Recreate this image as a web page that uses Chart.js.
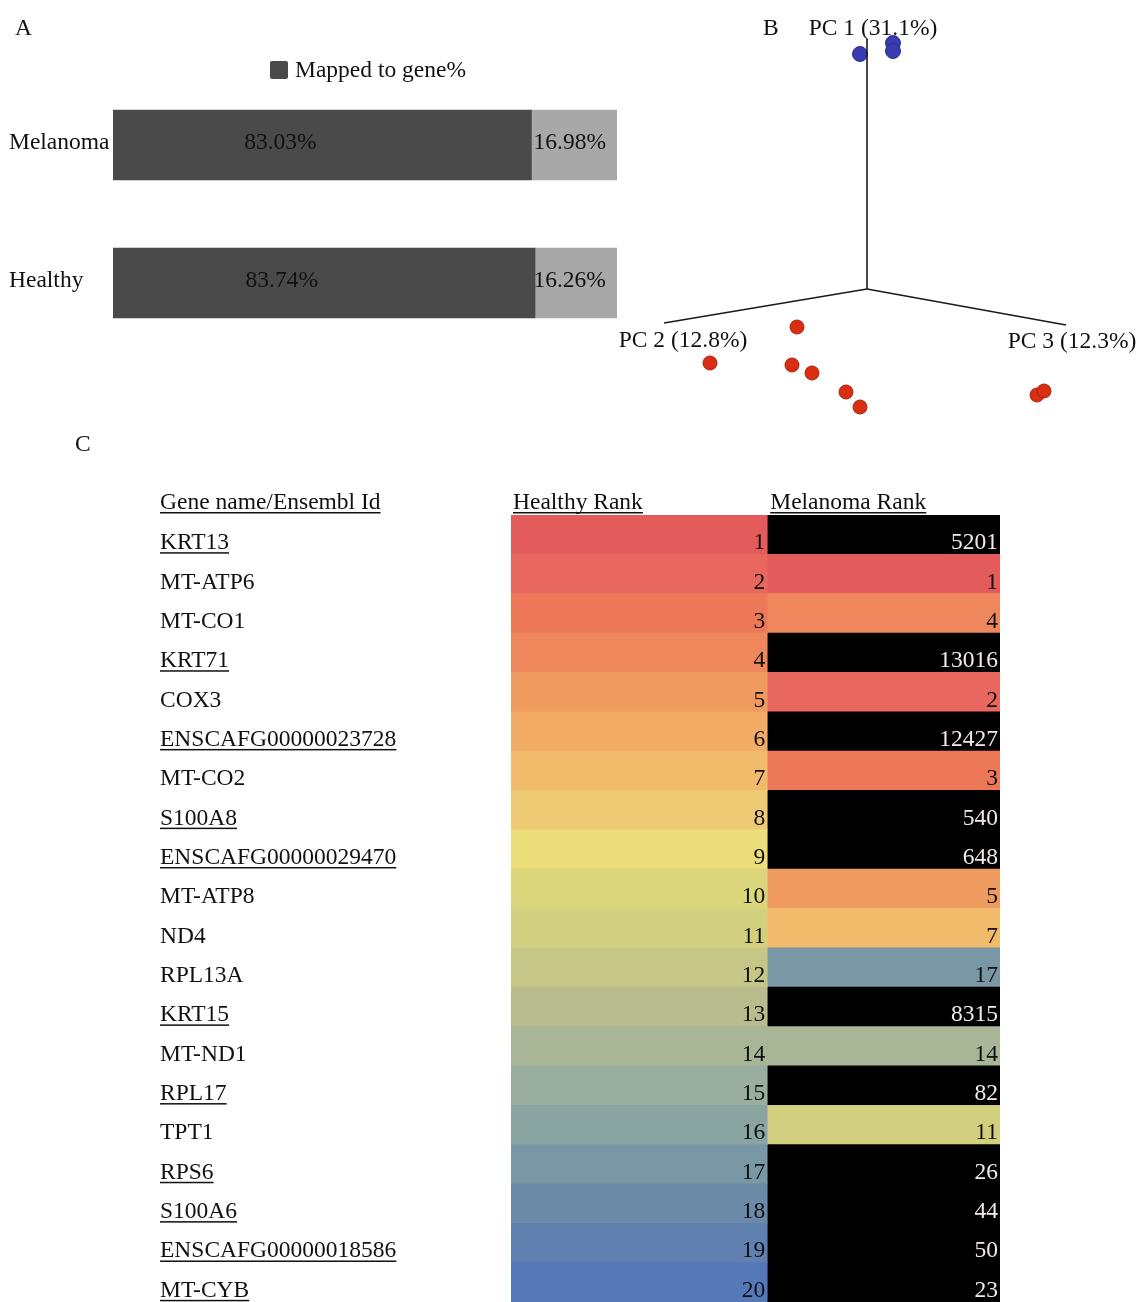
<!DOCTYPE html>
<html>
<head>
<meta charset="utf-8">
<title>Mapping rate, PCA and top ranked genes</title>
<script src="https://cdn.jsdelivr.net/npm/chart.js@4.4.1/dist/chart.umd.min.js"></script>
<style>
  html, body { margin: 0; padding: 0; background: #fff; }
  #page { position: relative; width: 1144px; height: 1302px; overflow: hidden; font-family: "Liberation Serif", "Times New Roman", serif; }
  canvas { position: absolute; }
  .panel { position: absolute; font-size: 23.5px; line-height: 24px; color: #111; }
</style>
</head>
<body>
<div id="page">
  <canvas id="mapChart" width="640" height="360" style="left:0;top:0"></canvas>
  <canvas id="pcaChart" width="544" height="420" style="left:600px;top:0"></canvas>
  <canvas id="rankChart" width="1144" height="882" style="left:0;top:420px"></canvas>
  <div class="panel" style="left:15px;top:15px">A</div>
  <div class="panel" style="left:763px;top:15px">B</div>
  <div class="panel" style="left:75px;top:431px">C</div>
</div>
<script>
const FONT = '23.5px "Liberation Serif", "Times New Roman", serif';

// A - reads mapped to genes
const sampleNames = ['Melanoma', 'Healthy'];
const mappedPct = [83.03, 83.74];
const unmappedPct = [16.98, 16.26];

// B - PCA scores projected on the page (PC1 up, PC2 left, PC3 right)
const pcLabels = ['PC 1 (31.1%)', 'PC 2 (12.8%)', 'PC 3 (12.3%)'];
const pcAxisEnds = [{x: 0, y: 2.50}, {x: -2.03, y: -0.34}, {x: 1.99, y: -0.36}];
const bluePoints = [{x: -0.07, y: 2.35}, {x: 0.26, y: 2.46}, {x: 0.26, y: 2.38}];
const redPoints = [
  {x: -0.70, y: -0.38}, {x: -1.57, y: -0.74}, {x: -0.75, y: -0.76}, {x: -0.55, y: -0.84},
  {x: -0.21, y: -1.03}, {x: -0.07, y: -1.18}, {x: 1.70, y: -1.06}, {x: 1.77, y: -1.02}
];

// C - top 20 genes in healthy samples and their rank in melanoma
const geneNames = ['KRT13', 'MT-ATP6', 'MT-CO1', 'KRT71', 'COX3', 'ENSCAFG00000023728', 'MT-CO2',
  'S100A8', 'ENSCAFG00000029470', 'MT-ATP8', 'ND4', 'RPL13A', 'KRT15', 'MT-ND1', 'RPL17', 'TPT1',
  'RPS6', 'S100A6', 'ENSCAFG00000018586', 'MT-CYB'];
const healthyRank = [1, 2, 3, 4, 5, 6, 7, 8, 9, 10, 11, 12, 13, 14, 15, 16, 17, 18, 19, 20];
const melanomaRank = [5201, 1, 4, 13016, 2, 12427, 3, 540, 648, 5, 7, 17, 8315, 14, 82, 11, 26, 44, 50, 23];
const rankColors = ['#e35b5b', '#e8675f', '#ec7858', '#ee885c', '#ef9a5e', '#f2ac65', '#f2bb6b',
  '#efca75', '#ecde7a', '#dbd67b', '#d2cf7e', '#c6c787', '#b9bd8e', '#a9b597', '#9aae9e',
  '#8aa4a2', '#7a97a5', '#6b8aa8', '#6081b0', '#5778b8'];

function rankColor(r) {
  return r <= rankColors.length ? rankColors[r - 1] : '#000000';
}

function underlined(ctx, text, x, y) {
  ctx.fillText(text, x, y);
  ctx.fillRect(x, y + 3, ctx.measureText(text).width, 1.5);
}

// ---------- A ----------
const mapLabels = {
  id: 'mapLabels',
  afterDatasetsDraw(chart) {
    const ctx = chart.ctx;
    const dark = chart.getDatasetMeta(0).data;
    const light = chart.getDatasetMeta(1).data;
    ctx.save();
    ctx.font = FONT;
    ctx.fillStyle = '#111';
    ctx.textBaseline = 'middle';
    sampleNames.forEach((name, i) => {
      const y = dark[i].y - 2;
      ctx.textAlign = 'left';
      ctx.fillText(name, 9, y);
      ctx.textAlign = 'center';
      ctx.fillText(mappedPct[i].toFixed(2) + '%', dark[i].base + (dark[i].x - dark[i].base) * 0.4, y);
      ctx.textAlign = 'right';
      ctx.fillText(unmappedPct[i].toFixed(2) + '%', light[i].x - 11, y);
    });
    // legend, only the mapped series
    const ds = chart.data.datasets[0];
    ctx.fillStyle = ds.backgroundColor;
    ctx.beginPath();
    ctx.roundRect(270, 61, 18, 18, 2);
    ctx.fill();
    ctx.fillStyle = '#111';
    ctx.textAlign = 'left';
    ctx.fillText(ds.label, 295, 71);
    ctx.restore();
  }
};

new Chart(document.getElementById('mapChart'), {
  type: 'bar',
  data: {
    labels: sampleNames,
    datasets: [
      { label: 'Mapped to gene%', data: mappedPct, backgroundColor: '#4a4a4a', barThickness: 70 },
      { label: 'Not mapped%', data: unmappedPct, backgroundColor: '#a9a8a9', barThickness: 70 }
    ]
  },
  options: {
    indexAxis: 'y',
    responsive: false,
    animation: false,
    layout: { padding: { left: 113, right: 23, top: 76, bottom: 8 } },
    scales: {
      x: { stacked: true, min: 0, max: 100.01, display: false },
      y: { stacked: true, display: false }
    },
    plugins: { legend: { display: false }, tooltip: { enabled: false } }
  },
  plugins: [mapLabels]
});

// ---------- B ----------
const pcLabelOffset = [[6, -10], [19, 18], [6, 17]];

const pcaLabels = {
  id: 'pcaLabels',
  afterDatasetsDraw(chart) {
    const ctx = chart.ctx;
    const sx = chart.scales.x, sy = chart.scales.y;
    ctx.save();
    ctx.font = FONT;
    ctx.fillStyle = '#111';
    ctx.textAlign = 'center';
    ctx.textBaseline = 'middle';
    pcLabels.forEach((txt, i) => {
      const px = sx.getPixelForValue(pcAxisEnds[i].x) + pcLabelOffset[i][0];
      const py = sy.getPixelForValue(pcAxisEnds[i].y) + pcLabelOffset[i][1];
      ctx.fillText(txt, px, py);
    });
    ctx.restore();
  }
};

const axisSets = pcAxisEnds.map((end, i) => ({
  label: pcLabels[i],
  data: [{x: 0, y: 0}, end],
  showLine: true,
  borderColor: '#1a1a1a',
  borderWidth: 1.6,
  pointRadius: 0
}));

new Chart(document.getElementById('pcaChart'), {
  type: 'scatter',
  data: {
    datasets: [
      ...axisSets,
      { label: 'Healthy', data: bluePoints, backgroundColor: '#3a3bb0', borderColor: '#2b2c92', borderWidth: 1, pointRadius: 7.5 },
      { label: 'Melanoma', data: redPoints, backgroundColor: '#d82f14', borderColor: '#a8220b', borderWidth: 1, pointRadius: 7 }
    ]
  },
  options: {
    responsive: false,
    animation: false,
    clip: false,
    layout: { padding: 0, autoPadding: false },
    scales: {
      x: { type: 'linear', min: -2.67, max: 2.77, display: false },
      y: { type: 'linear', min: -1.31, max: 2.89, display: false }
    },
    plugins: { legend: { display: false }, tooltip: { enabled: false } }
  },
  plugins: [pcaLabels]
});

// ---------- C ----------
const healthyShare = 0.524; // width of the healthy column within the table

const rankText = {
  id: 'rankText',
  afterDatasetsDraw(chart) {
    const ctx = chart.ctx;
    const area = chart.chartArea;
    const hCells = chart.getDatasetMeta(0).data;
    const mCells = chart.getDatasetMeta(1).data;
    const nameX = area.left - 351;
    ctx.save();
    ctx.font = FONT;
    ctx.textBaseline = 'alphabetic';
    ctx.fillStyle = '#111';
    ctx.textAlign = 'left';
    underlined(ctx, 'Gene name/Ensembl Id', nameX, area.top - 6);
    underlined(ctx, chart.data.datasets[0].label, hCells[0].base + 2, area.top - 6);
    underlined(ctx, chart.data.datasets[1].label, mCells[0].base + 3, area.top - 6);

    geneNames.forEach((gene, i) => {
      const y = hCells[i].y + 14.5;
      const offTop = melanomaRank[i] > rankColors.length;
      ctx.fillStyle = '#111';
      ctx.textAlign = 'left';
      if (offTop) underlined(ctx, gene, nameX, y);
      else ctx.fillText(gene, nameX, y);
      ctx.textAlign = 'right';
      ctx.fillText(String(healthyRank[i]), hCells[i].x - 2, y);
      ctx.fillStyle = offTop ? '#f4e8e8' : '#111';
      ctx.fillText(String(melanomaRank[i]), mCells[i].x - 2, y);
    });
    ctx.restore();
  }
};

new Chart(document.getElementById('rankChart'), {
  type: 'bar',
  data: {
    labels: geneNames,
    datasets: [
      { label: 'Healthy Rank', data: healthyRank.map(() => [0, healthyShare]), backgroundColor: healthyRank.map(rankColor) },
      { label: 'Melanoma Rank', data: melanomaRank.map(() => [healthyShare, 1]), backgroundColor: melanomaRank.map(rankColor) }
    ]
  },
  options: {
    indexAxis: 'y',
    responsive: false,
    animation: false,
    datasets: { bar: { grouped: false, barPercentage: 1, categoryPercentage: 1, borderWidth: 0 } },
    layout: { padding: { left: 511, right: 144, top: 95, bottom: 0 } },
    scales: {
      x: { min: 0, max: 1, display: false },
      y: { display: false }
    },
    plugins: { legend: { display: false }, tooltip: { enabled: false } }
  },
  plugins: [rankText]
});
</script>
</body>
</html>
